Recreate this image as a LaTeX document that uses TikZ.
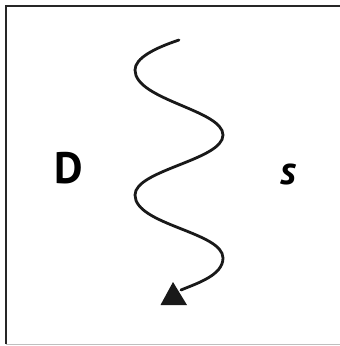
\documentclass[tikz,border=0pt]{standalone}
\usepackage{fontspec}
\setmainfont{PT Sans}
\begin{document}
\begin{tikzpicture}[x=1pt,y=-1pt,
  frameline/.style={draw=black!85,line width=2.4pt},
  wave/.style={draw=black!90,line width=2.8pt,line cap=round},
  lbl/.style={inner sep=0pt,font=\bfseries}]
\useasboundingbox (0,0) rectangle (340,346);
\draw[draw=black!25,line width=1pt] (6,344.5) -- (340,344.5);
\draw[frameline] (6,344) -- (6,6) -- (340,6);
\node[lbl,font=\fontsize{44}{44}\selectfont\bfseries] (D) at (69,168) {D};
\node[lbl,font=\fontsize{40}{40}\selectfont\bfseries\itshape] (S) at (288,174) {s};
\coordinate (start) at (179,40);
\coordinate (tip) at (181,290);
\draw[wave] (start) .. controls (155,48) and (135,58) .. (135,70)
  .. controls (135,100) and (223,110) .. (223,135)
  .. controls (223,160) and (135,170) .. (135,195)
  .. controls (135,225) and (223,232) .. (223,258)
  .. controls (223,275) and (198,283) .. (tip);
\fill[black!90] (160.5,305) -- (187,305) -- (173,282) -- cycle;
\end{tikzpicture}
\end{document}
